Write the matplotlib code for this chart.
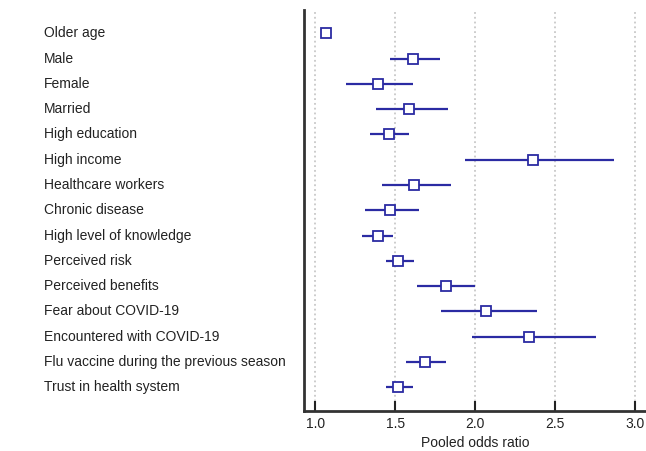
import matplotlib
matplotlib.use('Agg')
import matplotlib.pyplot as plt
import numpy as np

factors = [
    "Older age", "Male", "Female", "Married", "High education",
    "High income", "Healthcare workers", "Chronic disease",
    "High level of knowledge", "Perceived risk", "Perceived benefits",
    "Fear about COVID-19", "Encountered with COVID-19",
    "Flu vaccine during the previous season", "Trust in health system",
]
odds_ratio = [1.07, 1.61, 1.39, 1.59, 1.46, 2.36, 1.62, 1.47, 1.39, 1.52,
              1.82, 2.07, 2.34, 1.69, 1.52]
ci_low = [1.05, 1.47, 1.19, 1.38, 1.34, 1.94, 1.42, 1.31, 1.29, 1.44,
          1.64, 1.79, 1.98, 1.57, 1.44]
ci_high = [1.09, 1.78, 1.61, 1.83, 1.59, 2.87, 1.85, 1.65, 1.49, 1.62,
           2.00, 2.39, 2.76, 1.82, 1.61]
xticks = [1.0, 1.5, 2.0, 2.5, 3.0]

NAVY = "#2b2ba3"

plt.rcParams['font.family'] = ['Liberation Sans', 'DejaVu Sans']

fig = plt.figure(figsize=(6.46, 4.51), dpi=100)
ax = fig.add_axes([304 / 646, 1 - 410.5 / 451, 1 - 304 / 646, 400.5 / 451])

y = np.arange(len(factors))
ax.hlines(y, ci_low, ci_high, color=NAVY, linewidth=1.6, zorder=2)
ax.plot(odds_ratio, y, linestyle="none", marker="s", markersize=7.2,
        markerfacecolor="white", markeredgecolor=NAVY, markeredgewidth=1.3,
        zorder=3)

for xt in xticks:
    ax.axvline(xt, color="#c8c8c8", linestyle=":", linewidth=1.3, zorder=1)

ax.set_xlim(0.93, 3.07)
ax.set_ylim(len(factors) - 1 + 0.93, -0.93)
ax.set_xticks(xticks)
ax.set_xticklabels([f"{v:.1f}" for v in xticks], fontsize=10)
ax.tick_params(axis="x", direction="in", length=7, width=1.5, pad=5,
               color="#222222", labelcolor="#222222")
ax.set_yticks([])
ax.set_xlabel("Pooled odds ratio", fontsize=10, labelpad=3, color="#222222")

for side in ["top", "right"]:
    ax.spines[side].set_visible(False)
for side in ["left", "bottom"]:
    ax.spines[side].set_linewidth(2)
    ax.spines[side].set_color("#333333")

label_trans = matplotlib.transforms.blended_transform_factory(fig.transFigure, ax.transData)
for yi, name in zip(y, factors):
    ax.text(44 / 646, yi, name, transform=label_trans,
            fontsize=10, va="center", ha="left", color="#222222")

fig.savefig("out.png", dpi=100)
